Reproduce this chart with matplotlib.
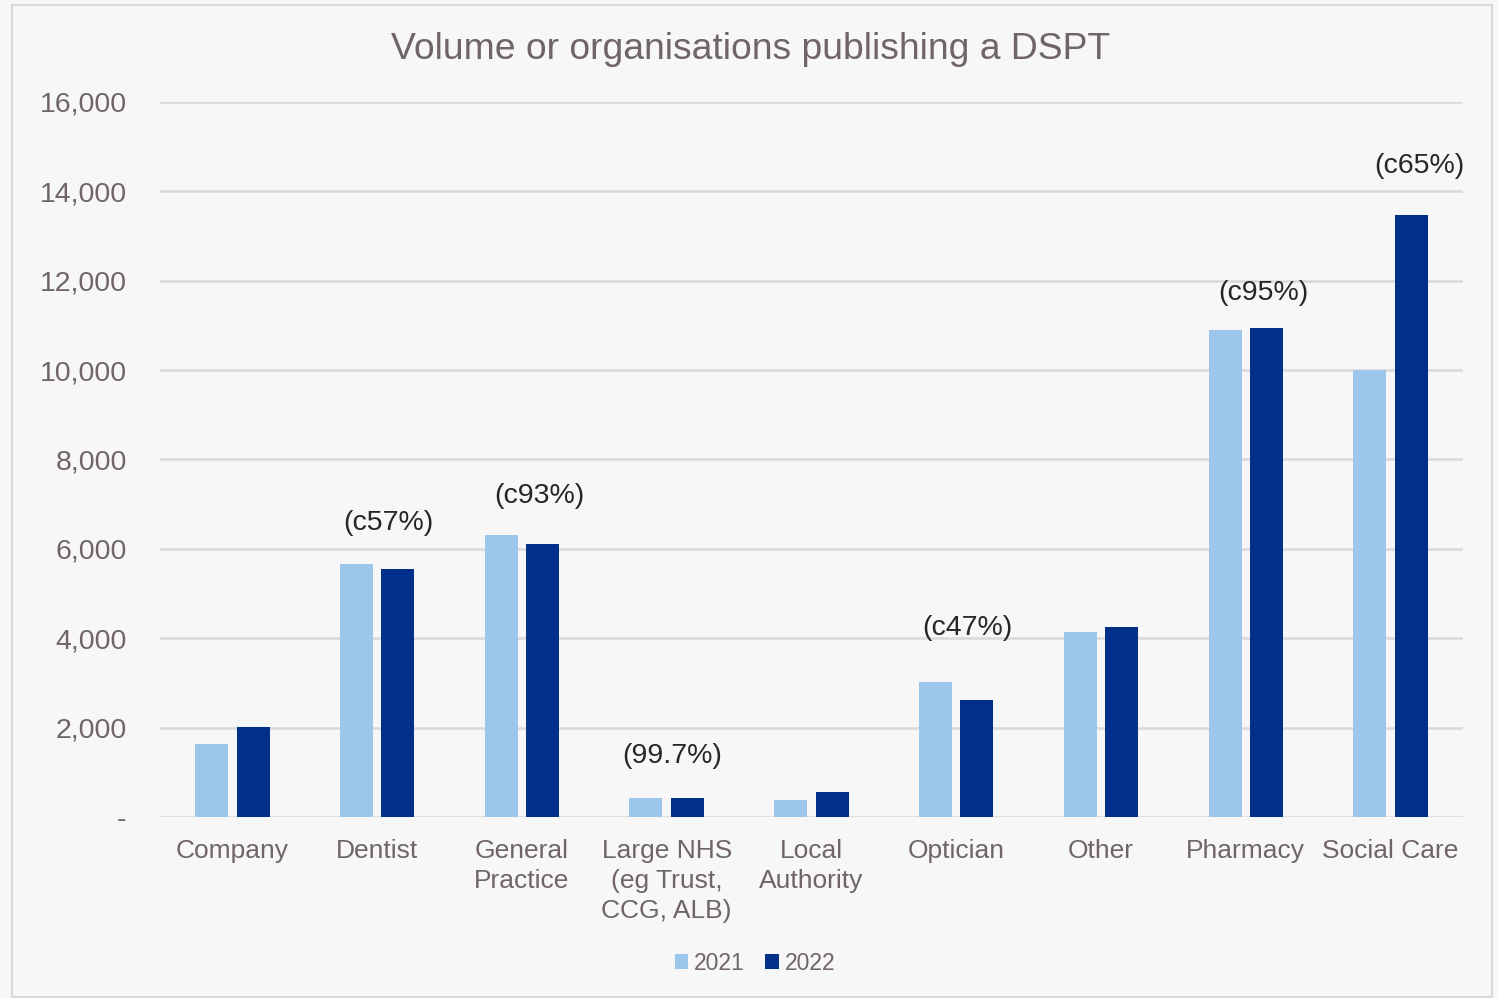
import matplotlib
matplotlib.use("Agg")
import matplotlib.pyplot as plt
from matplotlib.patches import Rectangle
from matplotlib.ticker import FuncFormatter
import numpy as np

plt.rcParams['font.family'] = ['Liberation Sans', 'DejaVu Sans']

categories = ['Company', 'Dentist', 'General\nPractice', 'Large NHS\n(eg Trust,\nCCG, ALB)',
              'Local\nAuthority', 'Optician', 'Other', 'Pharmacy', 'Social Care']
vals_2021 = [1630, 5660, 6310, 420, 380, 3020, 4140, 10900, 10000]
vals_2022 = [2010, 5550, 6110, 425, 560, 2620, 4250, 10940, 13470]

# percentage notes above some groups
note_idx = [1, 2, 3, 5, 7, 8]
note_text = ['(c57%)', '(c93%)', '(99.7%)', '(c47%)', '(c95%)', '(c65%)']

c21 = '#9CC6EA'
c22 = '#00308A'
grey_txt = '#6F6568'
bg = '#F7F7F7'

fig = plt.figure(figsize=(14.98, 9.98), dpi=100, facecolor=bg)
fig.patches.append(Rectangle((12 / 1498, 1 - 997 / 998), 1480 / 1498, 992 / 998,
                             transform=fig.transFigure, fill=False,
                             edgecolor='#D9D9D9', linewidth=1.5))
ax = fig.add_axes([0.1068, 0.1814, 0.8698, 0.7164])
ax.set_facecolor(bg)

x = np.arange(len(categories))
w = 0.228
off = 0.143
b1 = ax.bar(x - off, vals_2021, w, color=c21, label='2021', zorder=3)
b2 = ax.bar(x + off, vals_2022, w, color=c22, label='2022', zorder=3)

ax.set_xlim(-0.5, len(categories) - 0.5)
ax.set_ylim(0, 16000)
ax.set_yticks(np.arange(0, 16001, 2000))
ax.yaxis.set_major_formatter(FuncFormatter(lambda v, p: '-' if v == 0 else f'{int(v):,}'))
ax.grid(axis='y', color='#D9D9D9', linewidth=1.8, zorder=0)
ax.set_axisbelow(True)
for s in ax.spines.values():
    s.set_visible(False)
ax.tick_params(axis='both', length=0, colors=grey_txt)
ax.tick_params(axis='y', labelsize=20.5, pad=24)
ax.set_xticks(x)
ax.set_xticklabels(categories, fontsize=19, linespacing=1.3, va='top')
ax.tick_params(axis='x', pad=16)

# note positions (label x shift, y in data units)
note_dx = [0.075, 0.12, 0.04, 0.08, 0.12, 0.2]
note_y = [6580, 7180, 1360, 4230, 11720, 14560]
for i, t, dx, yy in zip(note_idx, note_text, note_dx, note_y):
    ax.text(i + dx, yy, t, ha='center', va='center', fontsize=20.5, color='#262626')

fig.text(0.501, 0.950, 'Volume or organisations publishing a DSPT', ha='center', va='center',
         fontsize=26.8, color=grey_txt)

leg = fig.legend(handles=[b1, b2], loc='center', bbox_to_anchor=(0.504, 0.035), ncol=2,
                 frameon=False, fontsize=16.5, handlelength=0.6, handleheight=0.6,
                 handletextpad=0.25, columnspacing=0.9)
for t in leg.get_texts():
    t.set_color(grey_txt)

fig.savefig('out.png', dpi=100, facecolor=bg)
